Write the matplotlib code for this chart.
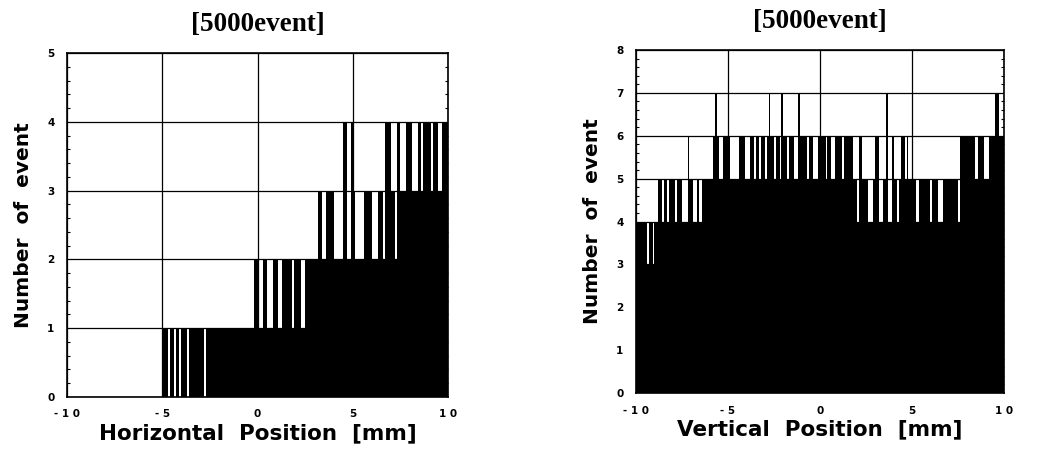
import numpy as np
import matplotlib
matplotlib.use("Agg")
import matplotlib.pyplot as plt
from matplotlib.ticker import MultipleLocator

# ---------------- data ----------------
x_range = (-10.0, 10.0)
bin_width = 0.1  # mm

# Horizontal position histogram: counts per 0.1 mm bin, from -10.0 mm upward
h_counts = (
    [0] * 50 +                          # -10.0 .. -5.1
    [1, 1, 1, 0, 1, 1, 0, 1, 1, 0] +    # -5.0 .. -4.1
    [1, 1, 1, 0, 1, 1, 1, 1, 1, 1] +    # -4.0 .. -3.1
    [1, 1, 0, 1, 1, 1, 1, 1, 1, 1] +    # -3.0 .. -2.1
    [1, 1, 1, 1, 1, 1, 1, 1, 1, 1] +    # -2.0 .. -1.1
    [1, 1, 1, 1, 1, 1, 1, 1, 2, 2] +    # -1.0 .. -0.1
    [2, 1, 1, 2, 2, 1, 1, 1, 2, 2] +    #  0.0 ..  0.9
    [2, 1, 1, 2, 2, 2, 2, 2, 1, 2] +    #  1.0 ..  1.9
    [2, 2, 2, 1, 1, 2, 2, 2, 2, 2] +    #  2.0 ..  2.9
    [2, 2, 3, 3, 2, 2, 3, 3, 3, 3] +    #  3.0 ..  3.9
    [2, 2, 2, 2, 2, 4, 4, 2, 2, 4] +    #  4.0 ..  4.9
    [3, 2, 2, 2, 2, 2, 3, 3, 3, 3] +    #  5.0 ..  5.9
    [2, 2, 2, 3, 3, 3, 2, 4, 4, 4] +    #  6.0 ..  6.9
    [3, 3, 2, 4, 4, 3, 3, 3, 4, 4] +    #  7.0 ..  7.9
    [4, 3, 3, 3, 4, 4, 3, 4, 4, 4] +    #  8.0 ..  8.9
    [4, 3, 4, 4, 4, 3, 3, 4, 4, 4]      #  9.0 ..  9.9
)

# Vertical position histogram: counts per 0.1 mm bin, from -10.0 mm upward
v_counts = (
    [4, 4, 4, 4, 4, 4, 3, 4, 4, 3] +    # -10.0 .. -9.1
    [4, 4, 5, 5, 4, 5, 5, 4, 5, 5] +    # -9.0 .. -8.1
    [5, 4, 5, 5, 5, 4, 4, 4, 6, 5] +    # -8.0 .. -7.1
    [5, 4, 4, 5, 4, 4, 5, 5, 5, 5] +    # -7.0 .. -6.1
    [5, 5, 6, 7, 6, 5, 5, 6, 6, 6] +    # -6.0 .. -5.1
    [6, 5, 5, 5, 5, 5, 6, 6, 6, 5] +    # -5.0 .. -4.1
    [5, 5, 6, 6, 5, 6, 6, 5, 6, 6] +    # -4.0 .. -3.1
    [5, 6, 7, 6, 6, 5, 6, 6, 5, 7] +    # -3.0 .. -2.1
    [6, 6, 5, 6, 6, 6, 5, 5, 7, 6] +    # -2.0 .. -1.1
    [6, 6, 6, 5, 6, 6, 5, 5, 5, 6] +    # -1.0 .. -0.1
    [6, 6, 6, 5, 6, 6, 5, 5, 6, 6] +    #  0.0 ..  0.9
    [6, 6, 5, 6, 6, 6, 6, 6, 5, 5] +    #  1.0 ..  1.9
    [4, 6, 6, 5, 5, 5, 4, 4, 4, 5] +    #  2.0 ..  2.9
    [6, 6, 4, 4, 5, 5, 7, 4, 4, 6] +    #  3.0 ..  3.9
    [5, 5, 4, 5, 6, 6, 5, 6, 5, 5] +    #  4.0 ..  4.9
    [5, 5, 4, 4, 5, 5, 5, 5, 5, 5] +    #  5.0 ..  5.9
    [4, 5, 5, 5, 4, 4, 4, 5, 5, 5] +    #  6.0 ..  6.9
    [5, 5, 5, 5, 5, 4, 6, 6, 6, 6] +    #  7.0 ..  7.9
    [6, 6, 6, 6, 5, 5, 6, 6, 6, 5] +    #  8.0 ..  8.9
    [5, 5, 6, 6, 6, 7, 7, 6, 6, 6]      #  9.0 ..  9.9
)

x_ticks = [-10, -5, 0, 5, 10]
x_ticklabels = ["- 1 0", "- 5", "0", "5", "1 0"]
title_text = "[5000event]"
h_xlabel = "Horizontal  Position  [mm]"
v_xlabel = "Vertical  Position  [mm]"
ylabel = "Number  of  event"
h_ymax = 5
v_ymax = 8

# ---------------- plot ----------------
fig = plt.figure(figsize=(10.47, 4.57), dpi=100)
fig.patch.set_facecolor("white")

ax1 = fig.add_axes([0.064, 0.1313, 0.3639, 0.7527])
ax2 = fig.add_axes([0.6075, 0.140, 0.3515, 0.7505])

tick_font = dict(fontsize=7.5, fontweight="bold", family="DejaVu Sans")


def draw(ax, counts, ymax, xlabel):
    edges = np.arange(len(counts)) * bin_width + x_range[0]
    ax.set_axisbelow(True)
    ax.grid(True, color="black", linewidth=0.9)
    ax.bar(edges, counts, width=bin_width, align="edge",
           color="black", edgecolor="none", linewidth=0, zorder=2)
    ax.set_xlim(*x_range)
    ax.set_ylim(0, ymax)
    ax.set_xticks(x_ticks)
    ax.set_xticklabels(x_ticklabels, **tick_font)
    ax.set_yticks(range(0, ymax + 1))
    ax.set_yticklabels([str(i) for i in range(0, ymax + 1)], **tick_font)
    ax.yaxis.set_minor_locator(MultipleLocator(0.2))
    ax.tick_params(axis="both", which="major", length=0, pad=9)
    ax.tick_params(axis="y", which="minor", direction="in", length=2.5,
                   width=0.8, left=True, right=True)
    for s in ax.spines.values():
        s.set_linewidth(1.2)
        s.set_color("black")
        s.set_zorder(3)
    ax.set_xlabel(xlabel, fontsize=15.5, fontweight="bold",
                  family="DejaVu Sans", labelpad=3)
    ax.set_ylabel(ylabel, fontsize=14.5, fontweight="bold",
                  family="DejaVu Sans", labelpad=10)
    ax.set_title(title_text, fontsize=19.5, fontweight="bold",
                 family="Liberation Serif", pad=16)


draw(ax1, h_counts, h_ymax, h_xlabel)
draw(ax2, v_counts, v_ymax, v_xlabel)

fig.savefig("out.png", dpi=100, facecolor="white")
